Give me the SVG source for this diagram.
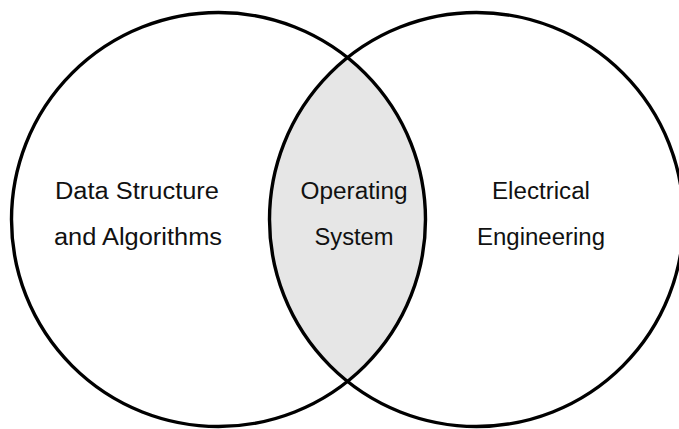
<svg xmlns="http://www.w3.org/2000/svg" width="679" height="429" viewBox="0 0 679 429">
  <style>
    .set { fill: none; stroke: #000; stroke-width: 3.4; }
    .overlap { fill: #e6e6e6; stroke: none; }
    .label { font-family: "Liberation Sans", Arial, sans-serif; font-size: 23px; fill: #111; text-anchor: middle; }
  </style>
  <rect width="679" height="429" fill="#fff"/>

  <!-- shaded intersection of the two sets -->
  <g id="intersection">
    <path class="overlap" d="M 347.5 57.6 A 207 207 0 0 1 347.5 381.4 A 207 207 0 0 1 347.5 57.6 Z"/>
  </g>

  <g id="set-dsa">
    <circle class="set" cx="218.5" cy="219.5" r="207"/>
    <text class="label" x="137" y="199" textLength="164" lengthAdjust="spacingAndGlyphs">Data Structure</text>
    <text class="label" x="138" y="245" textLength="168" lengthAdjust="spacingAndGlyphs">and Algorithms</text>
  </g>

  <g id="set-ee">
    <circle class="set" cx="476.5" cy="219.5" r="207"/>
    <text class="label" x="541" y="199" textLength="98" lengthAdjust="spacingAndGlyphs">Electrical</text>
    <text class="label" x="541" y="245" textLength="128" lengthAdjust="spacingAndGlyphs">Engineering</text>
  </g>

  <g id="os">
    <text class="label" x="354" y="199" textLength="107" lengthAdjust="spacingAndGlyphs">Operating</text>
    <text class="label" x="354" y="245" textLength="79" lengthAdjust="spacingAndGlyphs">System</text>
  </g>
</svg>
